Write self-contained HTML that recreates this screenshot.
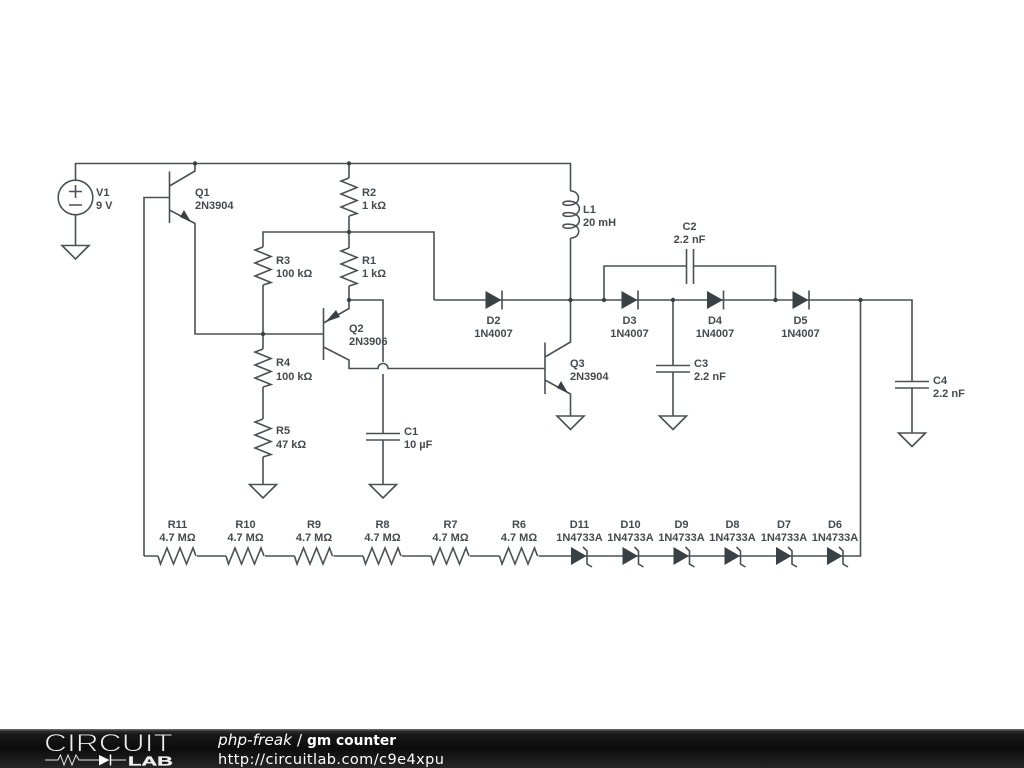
<!DOCTYPE html>
<html><head><meta charset="utf-8"><style>
html,body{margin:0;padding:0;background:#fff;width:1024px;height:768px;overflow:hidden}
svg{display:block}
.w{fill:none;stroke:#4a5054;stroke-width:1.6}
.t{font:bold 11px "Liberation Sans",sans-serif;fill:#444a4e}
.m{text-anchor:middle}
.d{fill:#3a4145}
.s{filter:blur(.3px)}
</style></head><body>
<svg width="1024" height="768" viewBox="0 0 1024 768" xmlns="http://www.w3.org/2000/svg">
<defs>
<g id="gnd"><path class="w" d="M-13.5 0H13.5L0 13.5Z"/></g>
<g id="rv"><path class="w" d="M0 0L-8 3L8 9.500L-8 16L8 22.500L-8 29L8 35.500L0 38"/></g>
<g id="rh"><path class="w" d="M-19.500 0L-17 8L-10.500 -8L-4 8L2.500 -8L9 8L15.500 -8L18.500 0"/></g>
<g id="dio"><path class="d" d="M-8 -9L8 0L-8 9Z"/><path class="w" d="M8.500 -9.500V9.500"/></g>
<g id="zen"><path class="d" d="M-7.500 -9L8 0L-7.500 9Z"/><path class="w" d="M4.500 -9L8.500 -5V8L13.500 11"/></g>
<linearGradient id="fg" x1="0" y1="0" x2="0" y2="1"><stop offset="0" stop-color="#777"/><stop offset=".06" stop-color="#2a2a2a"/><stop offset=".15" stop-color="#181818"/><stop offset=".5" stop-color="#0c0c0c"/><stop offset="1" stop-color="#262626"/></linearGradient>
</defs>
<g class="s">
<!-- wires -->
<path class="w" d="M75.500 180V163.500H570.500V191M75.500 215V245.500"/>
<circle class="w" cx="75.500" cy="197.500" r="17.300"/>
<path class="w" d="M69 191.500H82M75.500 185V198M69 205H82"/>
<use href="#gnd" x="75.500" y="245.500"/>
<!-- Q1 -->
<path class="w" d="M169.500 171.500V223M144 556V197.500H169.500M169.500 186L195 171V163.500M169.500 210L195 223.500V334H323.500"/>
<path class="d" d="M191 222L180 217L184 210Z"/>
<!-- R2 R1 -->
<path class="w" d="M349 163.500V178M349 216V248M349 286V300"/>
<use href="#rv" x="349" y="178"/><use href="#rv" x="349" y="248"/>
<!-- R3 R4 R5 -->
<path class="w" d="M349 232H263V247M263 285V349M263 387V419M263 457V484M349 232H434V300"/>
<use href="#rv" x="263" y="247"/><use href="#rv" x="263" y="349"/><use href="#rv" x="263" y="419"/>
<use href="#gnd" x="263" y="484.500"/>
<!-- Q2 -->
<path class="w" d="M323.500 308V360M323.500 323L349 308.500V300H383V362M383 374V433.500M383 440V484M323.500 347L349 360V368.500H378A5 5 0 0 1 388 368.500H545"/>
<path class="d" d="M325.500 322L336 310L340 317Z"/>
<path class="w" d="M366 433.500H400M366 440H400"/>
<use href="#gnd" x="383" y="484.500"/>
<!-- Q3 -->
<path class="w" d="M545 342.500V394M545 357L570.500 342V238M545 380L570.500 394V416"/>
<path class="d" d="M568 393L557 388L561 381Z"/>
<use href="#gnd" x="570.500" y="416"/>
<!-- L1 -->
<path class="w" d="M570.500 191C578 191 581 199 576 203C572 206 563 206 563 203.500C563 200.500 572 200.500 576 203C581 207 580 211 576 214.500C572 217 563 217 563 214.500C563 212 572 212 576 214.500C581 218 580 223 576 226C572 229 563 229 563 226C563 223.500 572 223.500 576 226C581 230 579 238 570.500 238"/>
<!-- main line -->
<path class="w" d="M434 300H912V381.500M912 388V433"/>
<path class="w" d="M895 381.500H929M895 388H929"/>
<use href="#gnd" x="912" y="433"/>
<path class="w" d="M604 300V266H686.500M693.500 266H775.500V300M686.500 249V284M693.500 249V284"/>
<path class="w" d="M673 300V365.500M673 372V416M656 365.500H690M656 372H690"/>
<use href="#gnd" x="673" y="416"/>
<use href="#dio" x="493.500" y="300"/><use href="#dio" x="629.500" y="300"/><use href="#dio" x="715" y="300"/><use href="#dio" x="800.500" y="300"/>
<!-- bottom -->
<path class="w" d="M860.500 300V556H144"/>
<g fill="#fff">
<rect x="158" y="553" width="39" height="6"/><rect x="226" y="553" width="39" height="6"/><rect x="294.500" y="553" width="39" height="6"/><rect x="363" y="553" width="39" height="6"/><rect x="431" y="553" width="39" height="6"/><rect x="499.500" y="553" width="39" height="6"/>
</g>
<use href="#rh" x="177.500" y="556"/><use href="#rh" x="245.500" y="556"/><use href="#rh" x="314" y="556"/><use href="#rh" x="382.500" y="556"/><use href="#rh" x="450.500" y="556"/><use href="#rh" x="519" y="556"/>
<use href="#zen" x="578.500" y="556"/><use href="#zen" x="630" y="556"/><use href="#zen" x="681" y="556"/><use href="#zen" x="732" y="556"/><use href="#zen" x="783.500" y="556"/><use href="#zen" x="834.500" y="556"/>
<!-- dots -->
<g class="d"><circle cx="195" cy="163.500" r="2.200"/><circle cx="349" cy="163.500" r="2.200"/><circle cx="349" cy="232" r="2.200"/><circle cx="349" cy="300" r="2.200"/><circle cx="263" cy="334" r="2.200"/><circle cx="570.500" cy="300" r="2.200"/><circle cx="604" cy="300" r="2.200"/><circle cx="673" cy="300" r="2.200"/><circle cx="775.500" cy="300" r="2.200"/><circle cx="860.500" cy="300" r="2.200"/></g>
<!-- labels -->
<g class="t">
<text x="96" y="196">V1</text><text x="96" y="209">9 V</text>
<text x="195" y="196">Q1</text><text x="195" y="209">2N3904</text>
<text x="362" y="196">R2</text><text x="362" y="209">1 kΩ</text>
<text x="276" y="264">R3</text><text x="276" y="277">100 kΩ</text>
<text x="362" y="264">R1</text><text x="362" y="277">1 kΩ</text>
<text x="349" y="332">Q2</text><text x="349" y="345">2N3906</text>
<text x="276" y="366">R4</text><text x="276" y="380">100 kΩ</text>
<text x="276" y="434">R5</text><text x="276" y="448">47 kΩ</text>
<text x="404" y="435">C1</text><text x="404" y="448">10 µF</text>
<text x="570" y="367">Q3</text><text x="570" y="380">2N3904</text>
<text x="583" y="213">L1</text><text x="583" y="226">20 mH</text>
<text x="694" y="367">C3</text><text x="694" y="380">2.2 nF</text>
<text x="933" y="384">C4</text><text x="933" y="397">2.2 nF</text>
<g class="m">
<text x="689.500" y="230">C2</text><text x="689.500" y="243">2.2 nF</text>
<text x="493.500" y="324">D2</text><text x="493.500" y="337">1N4007</text>
<text x="629.500" y="324">D3</text><text x="629.500" y="337">1N4007</text>
<text x="715" y="324">D4</text><text x="715" y="337">1N4007</text>
<text x="800.500" y="324">D5</text><text x="800.500" y="337">1N4007</text>
<text x="177.500" y="528">R11</text><text x="177.500" y="541">4.7 MΩ</text>
<text x="245.500" y="528">R10</text><text x="245.500" y="541">4.7 MΩ</text>
<text x="314" y="528">R9</text><text x="314" y="541">4.7 MΩ</text>
<text x="382.500" y="528">R8</text><text x="382.500" y="541">4.7 MΩ</text>
<text x="450.500" y="528">R7</text><text x="450.500" y="541">4.7 MΩ</text>
<text x="519" y="528">R6</text><text x="519" y="541">4.7 MΩ</text>
<text x="579.500" y="528">D11</text><text x="579.500" y="541">1N4733A</text>
<text x="630.500" y="528">D10</text><text x="630.500" y="541">1N4733A</text>
<text x="681.500" y="528">D9</text><text x="681.500" y="541">1N4733A</text>
<text x="732.500" y="528">D8</text><text x="732.500" y="541">1N4733A</text>
<text x="784" y="528">D7</text><text x="784" y="541">1N4733A</text>
<text x="835" y="528">D6</text><text x="835" y="541">1N4733A</text>
</g></g>
</g>
<!-- footer -->
<rect x="0" y="729" width="1024" height="39" fill="url(#fg)"/>
<text x="44" y="751.500" font-family="Liberation Sans" font-size="25" fill="#f0f0f0" stroke="#141414" stroke-width=".9" textLength="129" lengthAdjust="spacingAndGlyphs">CIRCUIT</text>
<path d="M45 760H58L60.500 755L64 765L68 755L72 765L76 755L79 760H100M111 760H126" fill="none" stroke="#e8e8e8" stroke-width="1"/>
<path d="M99 755L109.500 760L99 765.500Z" fill="#fff"/><path d="M110.500 754.500V765.500" stroke="#fff" stroke-width="1.500"/>
<text x="128" y="765.500" font-family="Liberation Sans" font-weight="bold" font-size="13" fill="#f0f0f0" stroke="#f0f0f0" stroke-width=".3" textLength="45" lengthAdjust="spacingAndGlyphs">LAB</text>
<text x="218" y="745" font-family="DejaVu Sans" font-size="15" font-style="italic" fill="#fff" textLength="74" lengthAdjust="spacingAndGlyphs">php-freak</text>
<text x="297" y="745" font-family="DejaVu Sans" font-size="15" fill="#fff">/</text>
<text x="307" y="745" font-family="DejaVu Sans" font-size="14" font-weight="bold" fill="#fff" textLength="89" lengthAdjust="spacingAndGlyphs">gm counter</text>
<text x="218" y="764" font-family="DejaVu Sans" font-size="14.500" fill="#fff" textLength="226">http://circuitlab.com/c9e4xpu</text>
</svg>
</body></html>
